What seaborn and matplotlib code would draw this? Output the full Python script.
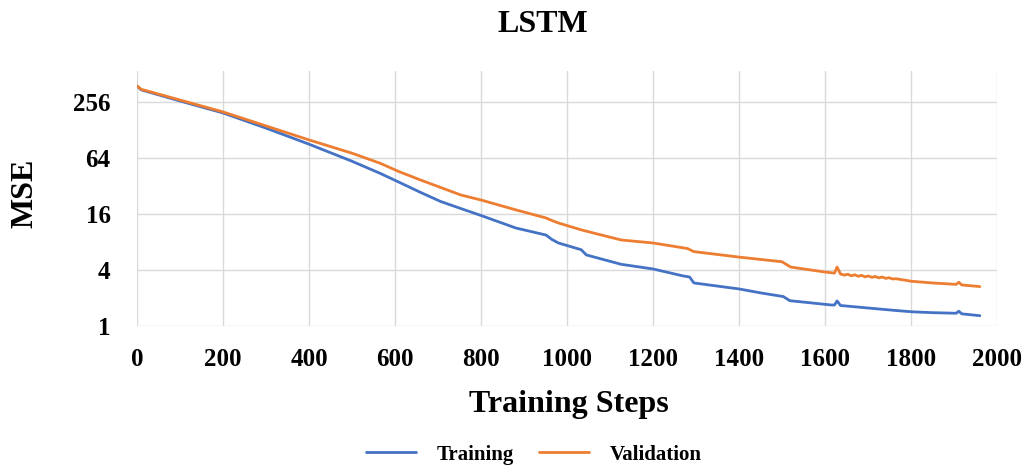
# LSTM training / validation MSE curves
import numpy as np
import pandas as pd
import matplotlib
matplotlib.use("Agg")
import matplotlib.pyplot as plt
import seaborn as sns

# values
train_steps = [0, 10, 100, 200, 300, 400, 500, 566, 610, 660, 706, 753, 800, 881, 951,
               965, 980, 1033, 1045, 1126, 1200, 1270, 1285, 1295, 1400, 1452, 1503,
               1518, 1615, 1622, 1628, 1636, 1700, 1762, 1802, 1850, 1905, 1911, 1918, 1960]
train_mse = [380, 345, 262, 195, 134, 90, 59, 43.6, 35, 27.2, 21.8, 18.3, 15.4, 11.3, 9.5,
             8.5, 7.8, 6.6, 5.8, 4.6, 4.1, 3.45, 3.36, 2.9, 2.5, 2.26, 2.07,
             1.87, 1.68, 1.68, 1.86, 1.66, 1.56, 1.47, 1.42, 1.39, 1.37, 1.44, 1.35, 1.29]

val_steps = [0, 10, 200, 400, 500, 566, 610, 660, 753, 800, 881, 951, 965, 980, 1033,
             1050, 1126, 1200, 1280, 1295, 1400, 1500, 1520, 1600, 1622, 1628, 1636,
             1645, 1653, 1661, 1669, 1677, 1685, 1693, 1701, 1709, 1717, 1725, 1733,
             1741, 1749, 1757, 1765, 1802, 1850, 1905, 1911, 1918, 1960]
val_mse = [380, 350, 200, 100, 72, 56, 45.5, 37, 25.6, 22.6, 17.7, 14.5, 13.6, 12.8, 10.8,
           10.3, 8.4, 7.8, 6.8, 6.3, 5.5, 4.9, 4.3, 3.8, 3.7, 4.3, 3.62,
           3.52, 3.6, 3.46, 3.55, 3.42, 3.5, 3.37, 3.45, 3.33, 3.4, 3.29, 3.36,
           3.25, 3.3, 3.2, 3.22, 3.02, 2.9, 2.8, 2.95, 2.76, 2.65]

x_ticks = [0, 200, 400, 600, 800, 1000, 1200, 1400, 1600, 1800, 2000]
y_ticks = [1, 4, 16, 64, 256]

# style
sns.set_style("whitegrid", {"grid.color": "#d9d9d9"})
plt.rcParams['font.family'] = ['Liberation Serif', 'DejaVu Serif']
plt.rcParams['font.weight'] = 'bold'
plt.rcParams['text.color'] = 'black'
plt.rcParams['xtick.color'] = 'black'
plt.rcParams['ytick.color'] = 'black'

train_df = pd.DataFrame({"step": train_steps, "mse": train_mse})
val_df = pd.DataFrame({"step": val_steps, "mse": val_mse})

fig = plt.figure(figsize=(10.3, 4.65), dpi=100)
ax = fig.add_axes([0.133, 0.299, 0.835, 0.548])

sns.lineplot(data=train_df, x="step", y="mse", ax=ax, color="#4472C4", linewidth=2.0,
             label="Training")
sns.lineplot(data=val_df, x="step", y="mse", ax=ax, color="#ED7D31", linewidth=2.0,
             label="Validation")

ax.set_yscale("log", base=2)
ax.set_ylim(1, 2 ** 9.1)
ax.set_xlim(0, 2000)
ax.set_yticks(y_ticks)
ax.set_yticklabels([str(v) for v in y_ticks])
ax.set_xticks(x_ticks)
ax.minorticks_off()
ax.tick_params(axis='both', labelsize=18, length=0, labelcolor='black')
ax.tick_params(axis='y', pad=19)
ax.tick_params(axis='x', pad=16)
for lab in ax.get_xticklabels() + ax.get_yticklabels():
    lab.set_fontweight('bold')
for s in ax.spines.values():
    s.set_visible(False)
ax.grid(True, color="#d9d9d9", linewidth=1.0)

ax.set_xlabel("")
ax.set_ylabel("")
fig.text(0.527, 0.948, "LSTM", ha='center', va='center', fontsize=23, fontweight='bold',
         color='black')
fig.text(0.552, 0.131, "Training Steps", ha='center', va='center', fontsize=23,
         fontweight='bold', color='black')
fig.text(0.024, 0.585, "MSE", ha='center', va='center', rotation=90, fontsize=23,
         fontweight='bold', color='black')

# legend at the bottom, partly cut off like the reference
ax.get_legend().remove()
handles, labels = ax.get_legend_handles_labels()
leg = fig.legend(handles, labels, loc='center', bbox_to_anchor=(0.518, 0.022), ncol=2,
                 frameon=False, handlelength=2.4, handletextpad=1.0,
                 columnspacing=1.2, prop={'weight': 'bold', 'size': 15})
for t in leg.get_texts():
    t.set_color('black')

plt.savefig("out.png", dpi=100)
